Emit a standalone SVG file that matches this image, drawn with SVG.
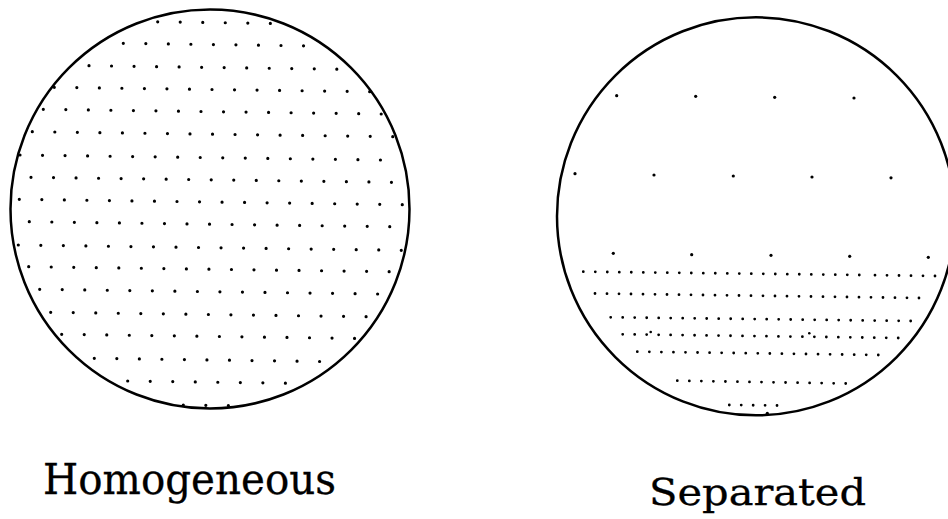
<svg xmlns="http://www.w3.org/2000/svg" width="948" height="519" viewBox="0 0 948 519">
<style>
.ring{fill:none;stroke:#000;stroke-width:2.5}
.rowL{stroke:#000;stroke-width:3.2;stroke-linecap:round;stroke-dasharray:0 22.53;fill:none}
.rowR{stroke:#000;stroke-width:2.8;stroke-linecap:round;fill:none}
.dot{fill:#000}
.lbl{font-family:"DejaVu Serif","Liberation Serif",serif;fill:#000;stroke:#000;stroke-width:0.3}
</style>
<rect width="948" height="519" fill="#fff"/>
<g id="homogeneous">
<circle class="ring" cx="210" cy="209" r="199.5"/>
<g id="homogeneous-dots">
<line class="rowL" x1="157.7" y1="21.8" x2="271.4" y2="23.4"/>
<line class="rowL" x1="123.3" y1="43.3" x2="304.5" y2="45.8"/>
<line class="rowL" x1="89" y1="65.7" x2="337.8" y2="69.2"/>
<line class="rowL" x1="54.3" y1="87.3" x2="370.7" y2="91.7"/>
<line class="rowL" x1="43.3" y1="109.3" x2="382.3" y2="114"/>
<line class="rowL" x1="32.3" y1="131.7" x2="393.8" y2="136.7"/>
<line class="rowL" x1="20" y1="155" x2="381.5" y2="160"/>
<line class="rowL" x1="31" y1="177.3" x2="392.5" y2="182.3"/>
<line class="rowL" x1="19.3" y1="199.3" x2="403.3" y2="204.7"/>
<line class="rowL" x1="29.3" y1="221.7" x2="390.8" y2="226.7"/>
<line class="rowL" x1="18.3" y1="245" x2="402.3" y2="250.3"/>
<line class="rowL" x1="28.7" y1="266.7" x2="390.2" y2="271.7"/>
<line class="rowL" x1="39.7" y1="289.3" x2="378.7" y2="294"/>
<line class="rowL" x1="50.7" y1="312.3" x2="367.1" y2="316.7"/>
<line class="rowL" x1="61.7" y1="334.3" x2="355.6" y2="338.4"/>
<line class="rowL" x1="94.3" y1="358.3" x2="320.6" y2="361.5"/>
<line class="rowL" x1="127.7" y1="381" x2="286.4" y2="383.2"/>
<line class="rowL" x1="183.3" y1="405" x2="229.4" y2="405.6"/>
</g>
<text class="lbl" x="43" y="494" font-size="42" textLength="293" lengthAdjust="spacingAndGlyphs">Homogeneous</text>
</g>
<g id="separated">
<circle class="ring" cx="756" cy="216.3" r="199"/>
<g id="separated-dots">
<circle class="dot" cx="616.7" cy="95.7" r="1.6"/>
<circle class="dot" cx="695.7" cy="96.3" r="1.6"/>
<circle class="dot" cx="774.7" cy="97.3" r="1.6"/>
<circle class="dot" cx="854" cy="98" r="1.6"/>
<circle class="dot" cx="575" cy="173.7" r="1.6"/>
<circle class="dot" cx="654" cy="175" r="1.6"/>
<circle class="dot" cx="733.3" cy="176" r="1.6"/>
<circle class="dot" cx="812" cy="177" r="1.6"/>
<circle class="dot" cx="891" cy="177.8" r="1.6"/>
<circle class="dot" cx="613.3" cy="253.3" r="1.6"/>
<circle class="dot" cx="691.7" cy="254.7" r="1.6"/>
<circle class="dot" cx="771" cy="255.3" r="1.6"/>
<circle class="dot" cx="849.7" cy="256.3" r="1.6"/>
<circle class="dot" cx="928.3" cy="257.3" r="1.6"/>
<line class="rowR" stroke-dasharray="0 12" x1="583.3" y1="271.7" x2="860.3" y2="275"/>
<line class="rowR" stroke-dasharray="0 12" x1="875" y1="275.2" x2="936" y2="276"/>
<line class="rowR" stroke-dasharray="0 12" x1="595" y1="293.5" x2="920" y2="298"/>
<line class="rowR" stroke-dasharray="0 12" x1="610.7" y1="317.3" x2="911.7" y2="321"/>
<line class="rowR" stroke-dasharray="0 11.98" x1="622.7" y1="334.3" x2="899.3" y2="338"/>
<line class="rowR" stroke-dasharray="0 12.05" x1="637.3" y1="351.7" x2="879.3" y2="355"/>
<line class="rowR" stroke-dasharray="0 12.03" x1="677.3" y1="380.7" x2="846.7" y2="383.5"/>
<line class="rowR" stroke-dasharray="0 11.93" x1="729.3" y1="405" x2="778" y2="405.5"/>
<circle class="dot" cx="650.7" cy="332" r="1.3"/>
<circle class="dot" cx="809.3" cy="333.3" r="1.3"/>
<circle class="dot" cx="767.3" cy="413.3" r="1.6"/>
</g>
<text class="lbl" x="649" y="505" font-size="37" textLength="217" lengthAdjust="spacingAndGlyphs">Separated</text>
</g>
</svg>
